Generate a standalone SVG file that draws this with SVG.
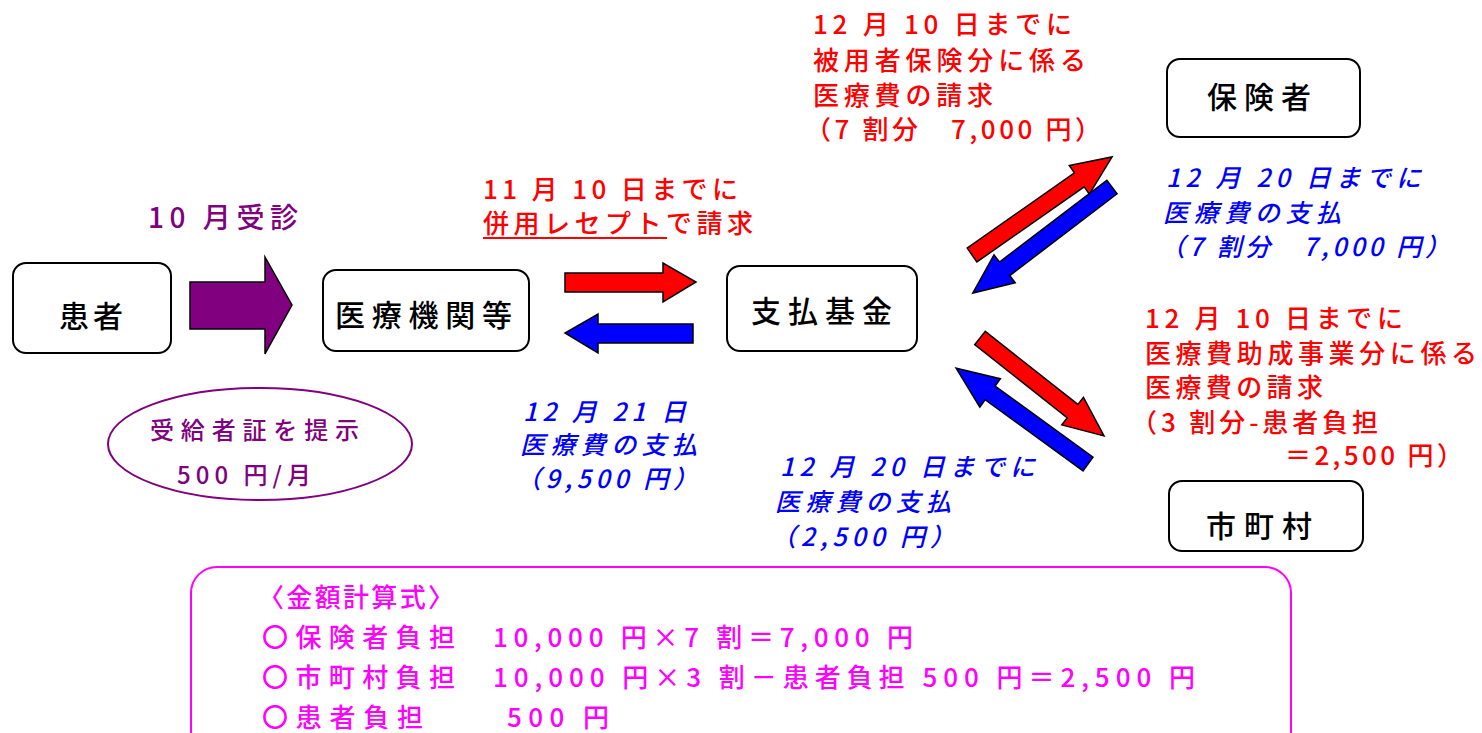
<svg xmlns="http://www.w3.org/2000/svg" width="1482" height="733" viewBox="0 0 1482 733">
<style>
text{font-family:"Noto Sans CJK JP","Noto Sans",sans-serif;font-weight:500;}
.box{fill:#fff;stroke:#000;stroke-width:2;}
.nt{font-size:30px;fill:#000;}
.red{font-size:26px;fill:#f00;}
.blue{font-size:25px;fill:#00f;font-style:italic;}
.pur{fill:#800080;}
.mag{font-size:26px;fill:#f0f;}
.arr{stroke:#000;stroke-width:1.5;stroke-linejoin:miter;}
</style>
<rect width="1482" height="733" fill="#fff"/>

<g id="connectors">
<polygon class="arr" fill="#800080" points="190,282 265,282 265,257 292,305 265,354 265,329 190,329"/>
<polygon class="arr" fill="#f00" points="565,273 663,273 663,263 696,282 663,302 663,292 565,292"/>
<polygon class="arr" fill="#00f" points="693,324 598,324 598,314 565,333 598,353 598,343 693,343"/>
<path class="arr" fill="#f00" d="M0,-8.5 H131 V-17.5 L171,0 L131,17.5 V8.5 H0 Z" transform="translate(972,255) rotate(-35)"/>
<path class="arr" fill="#00f" d="M0,-8.5 H135 V-17.5 L175,0 L135,17.5 V8.5 H0 Z" transform="translate(1112,187) rotate(142.7)"/>
<path class="arr" fill="#f00" d="M0,-8.5 H118 V-17.5 L158,0 L118,17.5 V8.5 H0 Z" transform="translate(980,338) rotate(38.3)"/>
<path class="arr" fill="#00f" d="M0,-8.5 H121 V-17.5 L163,0 L121,17.5 V8.5 H0 Z" transform="translate(1088,464) rotate(-144)"/>
</g>

<g id="node-patient">
<rect class="box" x="13" y="263" width="158" height="90" rx="13"/>
<text class="nt" x="59" y="327" textLength="64" lengthAdjust="spacing">患者</text>
</g>
<g id="node-hospital">
<rect class="box" x="323" y="270" width="206" height="81" rx="13"/>
<text class="nt" x="335" y="326" textLength="177" lengthAdjust="spacing">医療機関等</text>
</g>
<g id="node-fund">
<rect class="box" x="727" y="266" width="190" height="85" rx="13"/>
<text class="nt" x="751" y="322" textLength="141" lengthAdjust="spacing">支払基金</text>
</g>
<g id="node-insurer">
<rect class="box" x="1167" y="59" width="193" height="78" rx="13"/>
<text class="nt" x="1207" y="108" textLength="104" lengthAdjust="spacing">保険者</text>
</g>
<g id="node-city">
<rect class="box" x="1169" y="481" width="194" height="70" rx="13"/>
<text class="nt" x="1206" y="537" textLength="106" lengthAdjust="spacing">市町村</text>
</g>

<g id="label-visit">
<text class="pur" font-size="28" x="148" y="228" textLength="150" lengthAdjust="spacing">10 月受診</text>
</g>

<g id="label-certificate">
<ellipse cx="260" cy="444" rx="152" ry="56" fill="none" stroke="#800080" stroke-width="2"/>
<text class="pur" font-size="24" x="150" y="439" textLength="209" lengthAdjust="spacing">受給者証を提示</text>
<text class="pur" font-size="24" x="177" y="484" textLength="134" lengthAdjust="spacing">500 円/月</text>
</g>

<g id="label-claim-nov">
<text class="red" font-size="23" x="483" y="199" textLength="255" lengthAdjust="spacing">11 月 10 日までに</text>
<text class="red" font-size="23" x="483" y="233" textLength="270" lengthAdjust="spacing">併用レセプトで請求</text>
<line x1="483" y1="238" x2="667" y2="238" stroke="#f00" stroke-width="2"/>
</g>

<g id="label-claim-insurer">
<text class="red" x="813" y="34" textLength="259" lengthAdjust="spacing">12 月 10 日までに</text>
<text class="red" x="813" y="70" textLength="273" lengthAdjust="spacing">被用者保険分に係る</text>
<text class="red" x="813" y="105" textLength="180" lengthAdjust="spacing">医療費の請求</text>
<text class="red" x="805" y="139" textLength="296" lengthAdjust="spacing">（7 割分　7,000 円）</text>
</g>

<g id="label-pay-insurer">
<text class="blue" x="1166" y="187" textLength="255" lengthAdjust="spacing">12 月 20 日までに</text>
<text class="blue" x="1163" y="222" textLength="178" lengthAdjust="spacing">医療費の支払</text>
<text class="blue" x="1160" y="256" textLength="290" lengthAdjust="spacing">（7 割分　7,000 円）</text>
</g>

<g id="label-claim-city">
<text class="red" x="1145" y="328" textLength="258" lengthAdjust="spacing">12 月 10 日までに</text>
<text class="red" x="1145" y="363" textLength="332" lengthAdjust="spacing">医療費助成事業分に係る</text>
<text class="red" x="1145" y="397" textLength="178" lengthAdjust="spacing">医療費の請求</text>
<text class="red" x="1131" y="432" textLength="247" lengthAdjust="spacing">（3 割分-患者負担</text>
<text class="red" x="1285" y="465" textLength="178" lengthAdjust="spacing">＝2,500 円）</text>
</g>

<g id="label-pay-hospital">
<text class="blue" font-size="24" x="523" y="421" textLength="163" lengthAdjust="spacing">12 月 21 日</text>
<text class="blue" font-size="24" x="520" y="454" textLength="177" lengthAdjust="spacing">医療費の支払</text>
<text class="blue" font-size="24" x="516" y="488" textLength="182" lengthAdjust="spacing">（9,500 円）</text>
</g>

<g id="label-pay-city">
<text class="blue" font-size="25" x="780" y="476" textLength="255" lengthAdjust="spacing">12 月 20 日までに</text>
<text class="blue" font-size="25" x="775" y="511" textLength="176" lengthAdjust="spacing">医療費の支払</text>
<text class="blue" font-size="25" x="771" y="546" textLength="184" lengthAdjust="spacing">（2,500 円）</text>
</g>

<g id="formula-box">
<rect x="191" y="567" width="1100" height="200" rx="26" fill="none" stroke="#f0f" stroke-width="2"/>
<text class="mag" x="258" y="607" textLength="196" lengthAdjust="spacing">〈金額計算式〉</text>
<text class="mag" x="262" y="647" textLength="193" lengthAdjust="spacing">〇保険者負担</text>
<text class="mag" x="493" y="647" textLength="420" lengthAdjust="spacing">10,000 円×7 割＝7,000 円</text>
<text class="mag" x="262" y="687" textLength="193" lengthAdjust="spacing">〇市町村負担</text>
<text class="mag" x="493" y="687" textLength="702" lengthAdjust="spacing">10,000 円×3 割－患者負担 500 円＝2,500 円</text>
<text class="mag" x="262" y="727" textLength="161" lengthAdjust="spacing">〇患者負担</text>
<text class="mag" x="507" y="727" textLength="102" lengthAdjust="spacing">500 円</text>
</g>
</svg>
